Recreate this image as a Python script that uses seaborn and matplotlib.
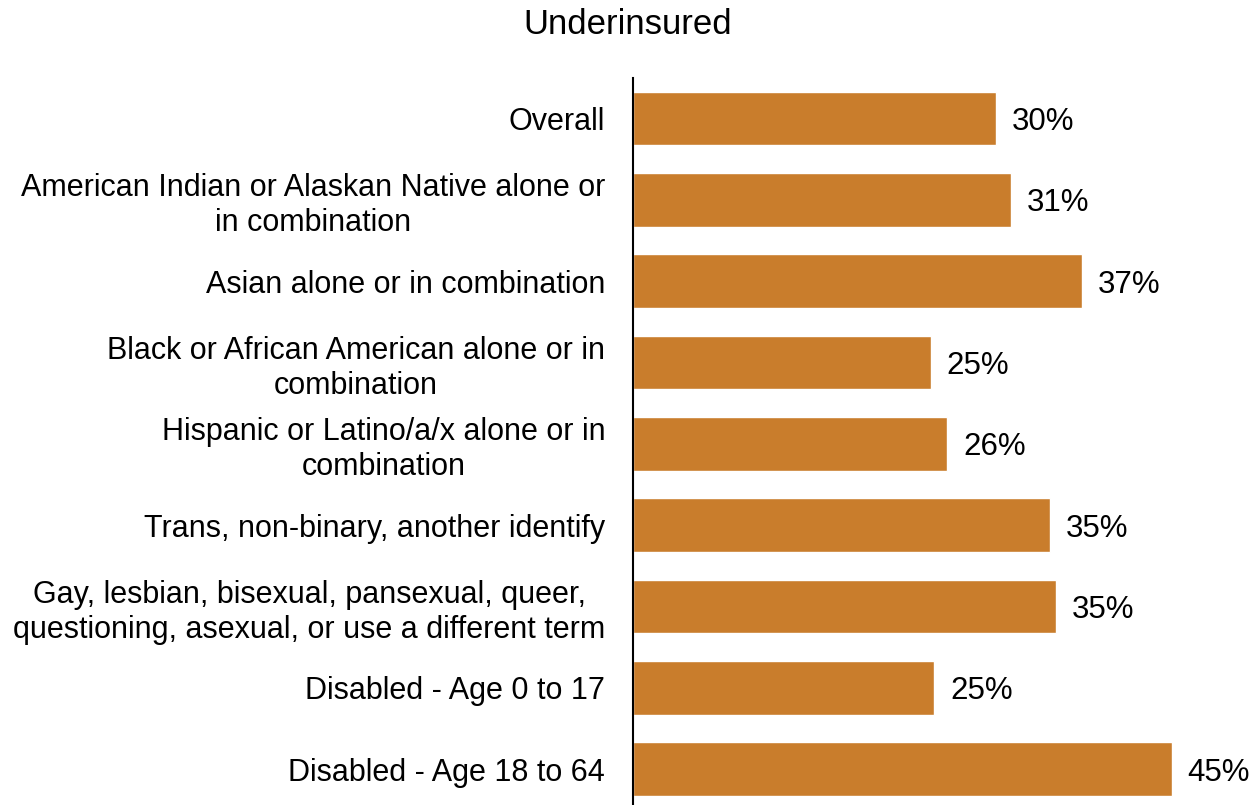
import matplotlib
matplotlib.use("Agg")
import matplotlib.pyplot as plt
import seaborn as sns
import pandas as pd

categories = [
    "Overall",
    "American Indian or Alaskan Native alone or\nin combination",
    "Asian alone or in combination",
    "Black or African American alone or in\ncombination",
    "Hispanic or Latino/a/x alone or in\ncombination",
    "Trans, non-binary, another identify",
    "Gay, lesbian, bisexual, pansexual, queer,\nquestioning, asexual, or use a different term",
    "Disabled - Age 0 to 17",
    "Disabled - Age 18 to 64",
]
values = [30.1, 31.4, 37.3, 24.7, 26.1, 34.6, 35.1, 25.0, 44.7]
value_labels = ["30%", "31%", "37%", "25%", "26%", "35%", "35%", "25%", "45%"]
title = "Underinsured"

sns.set_style("white")
plt.rcParams["font.family"] = ["Liberation Sans", "DejaVu Sans"]

df = pd.DataFrame({"cat": categories, "val": values})

fig = plt.figure(figsize=(12.53, 8.05), dpi=100)
ax = fig.add_axes([633 / 1253, 0, 615 / 1253, (805 - 78) / 805])

sns.barplot(data=df, x="val", y="cat", color="#C97D2C", width=0.66,
            saturation=1, ax=ax, orient="h")

ax.set_xlim(0, 51.04)
ax.set_ylim(8.44, -0.5)
ax.set_xlabel("")
ax.set_ylabel("")
ax.set_xticks([])
for s in ["top", "right", "bottom"]:
    ax.spines[s].set_visible(False)
ax.spines["left"].set_color("black")
ax.spines["left"].set_linewidth(1.5)
ax.tick_params(axis="y", length=0, pad=20, labelsize=22, labelcolor="black")
for lab in ax.get_yticklabels():
    lab.set_multialignment("center")

for i, (v, t) in enumerate(zip(values, value_labels)):
    ax.text(v + 1.3, i, t, va="center_baseline", ha="left", fontsize=22.5,
            color="black")

fig.text(628 / 1253, 1 - 25 / 805, title, ha="center", va="center",
         fontsize=25, color="black")

fig.savefig("out.png", dpi=100)
